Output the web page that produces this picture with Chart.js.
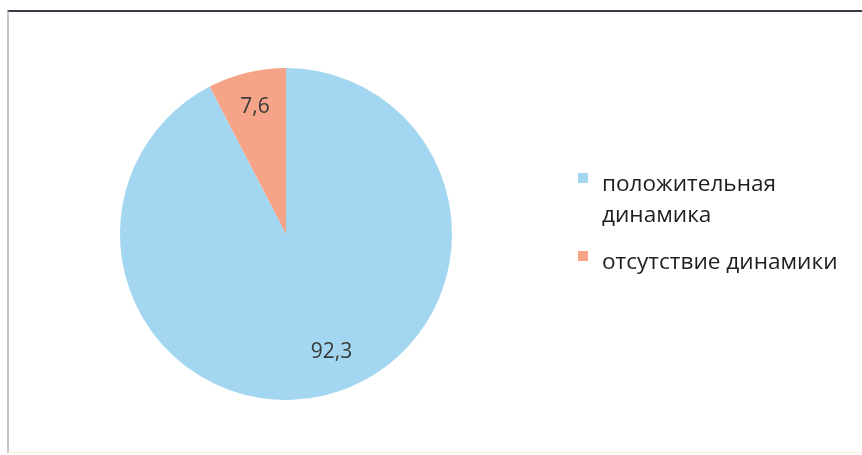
<!DOCTYPE html>
<html>
<head>
<meta charset="utf-8">
<script src="https://cdn.jsdelivr.net/npm/chart.js@4/dist/chart.umd.min.js"></script>
<style>
  html, body { margin: 0; padding: 0; background: #fff; }
  #wrap { position: relative; width: 862px; height: 455px; overflow: hidden; background: #fff; }
  #frame { position: absolute; left: 7px; top: 10px; right: -4px; bottom: 2px;
           border-top: 2px solid #3a3a48; border-left: 2px solid #c4c4cc; border-bottom: 1px solid #f4f1cf; }
  #c { position: absolute; left: 0; top: 0; }
  #legend { position: absolute; left: 578px; top: 167px; width: 262px;
            font-family: "Open Sans", sans-serif; font-size: 22.6px; color: #1e1e1e; line-height: 31px; }
  .item { position: relative; padding-left: 24px; margin-bottom: 16px; }
  .sw { position: absolute; left: 0; top: 6px; width: 10px; height: 10px; }
</style>
</head>
<body>
<div id="wrap">
  <div id="frame"></div>
  <canvas id="c" width="862" height="455"></canvas>
  <div id="legend"></div>
</div>
<script>
const categories = ["положительная динамика", "отсутствие динамики"];
const values = [92.3, 7.6];
const valueLabels = ["92,3", "7,6"];
const colors = ["#a3d6f0", "#f5a487"];

// label placement style: radius fraction and angular shift (radians) per slice
const labelRadius = [0.76, 0.79];
const labelShift = [-0.13, 0.0];

const labelPlugin = {
  id: 'sliceLabels',
  afterDatasetsDraw(chart) {
    const ctx = chart.ctx;
    const meta = chart.getDatasetMeta(0);
    ctx.save();
    ctx.font = '21px "Open Sans", sans-serif';
    ctx.fillStyle = '#3a3a3a';
    ctx.textAlign = 'center';
    ctx.textBaseline = 'middle';
    meta.data.forEach((arc, i) => {
      const p = arc.getProps(['x','y','startAngle','endAngle','outerRadius'], true);
      const a = (p.startAngle + p.endAngle) / 2 + labelShift[i];
      const r = p.outerRadius * labelRadius[i];
      ctx.fillText(valueLabels[i], p.x + Math.cos(a) * r, p.y + Math.sin(a) * r);
    });
    ctx.restore();
  }
};

new Chart(document.getElementById('c'), {
  type: 'pie',
  data: {
    labels: categories,
    datasets: [{ data: values, backgroundColor: colors, borderWidth: 0 }]
  },
  options: {
    responsive: false,
    animation: false,
    layout: { padding: { left: 120, right: 410, top: 68, bottom: 55 } },
    plugins: { legend: { display: false }, tooltip: { enabled: false } }
  },
  plugins: [labelPlugin]
});

const lg = document.getElementById('legend');
categories.forEach((c, i) => {
  const d = document.createElement('div');
  d.className = 'item';
  const s = document.createElement('span');
  s.className = 'sw';
  s.style.background = colors[i];
  d.appendChild(s);
  d.appendChild(document.createTextNode(c));
  lg.appendChild(d);
});
</script>
</body>
</html>
